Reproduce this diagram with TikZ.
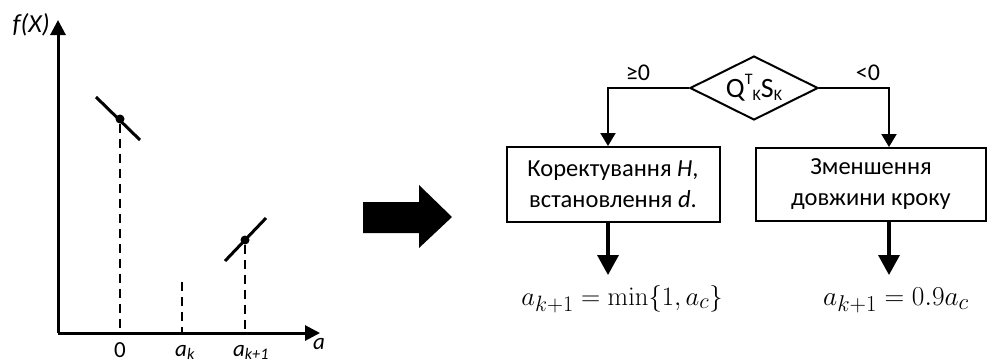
\documentclass[tikz,border=0pt]{standalone}
\usepackage{graphicx}
\usepackage[no-math]{fontspec}
\setmainfont{Carlito}
\usetikzlibrary{arrows.meta,shapes.geometric,calc}
\begin{document}
\begin{tikzpicture}[x=1pt,y=-1pt,
  axis/.style={line width=3pt,-{Triangle[length=15pt,width=15pt]}},
  tang/.style={line width=3pt},
  dsh/.style={line width=1.4pt,dash pattern=on 9pt off 6pt},
  dot/.style={circle,fill=black,inner sep=0pt,minimum size=9pt},
  lbl/.style={font=\fontsize{23}{26}\selectfont\itshape,inner sep=0pt},
  box/.style={draw,line width=2pt,align=center,font=\fontsize{24.5}{31}\selectfont,inner sep=0pt},
  flow/.style={line width=2pt,-{Triangle[length=13pt,width=15pt]}},
  outarr/.style={line width=3.5pt,-{Triangle[length=20pt,width=21pt]}},
  frm/.style={font=\fontsize{24.88}{30}\selectfont,anchor=base,inner sep=0pt},
  cond/.style={font=\fontsize{24}{26}\selectfont,inner sep=0pt}]
\useasboundingbox (0,0) rectangle (987,362);
% ---- graph ----
\coordinate (O) at (58,333);
\coordinate (ytip) at (58,20);
\coordinate (xtip) at (320,333);
\draw[axis] (O) -- (ytip);
\draw[axis] (O) -- (xtip);
\node[lbl,font=\fontsize{26}{28}\selectfont\itshape,anchor=east] (fx) at (50,25) {f(X)};
\node[lbl] (alab) at (319,344) {a};
\node[dot] (p1) at (120,119) {};
\node[dot] (p2) at (245,240) {};
\coordinate (t1a) at (96,97);
\coordinate (t1b) at (140,140);
\coordinate (t2a) at (225,261);
\coordinate (t2b) at (266,218);
\draw[tang] (t1a) -- (t1b);
\draw[tang] (t2a) -- (t2b);
\coordinate (b1) at (120,333);
\coordinate (bk) at (182,333);
\coordinate (b2) at (245,333);
\coordinate (tk) at (182,282);
\draw[dsh] (p1) -- (b1);
\draw[dsh] (tk) -- (bk);
\draw[dsh] (p2) -- (b2);
\node[lbl,font=\fontsize{23}{26}\selectfont,anchor=base] (l0) at (120,357) {0};
\node[lbl,anchor=base] (lk) at (185,356) {a\textsubscript{k}};
\node[lbl,anchor=base] (lk1) at (251,356) {a\textsubscript{k+1}};
% ---- block arrow ----
\fill (363,202) -- (419,202) -- (419,185) -- (452,217) -- (419,248) -- (419,233) -- (363,233) -- cycle;
% ---- flowchart ----
\node[draw,line width=2pt,shape=diamond,aspect=2,minimum width=128pt,minimum height=64pt,inner sep=0pt,
      font=\fontsize{28}{30}\selectfont] (dia) at (754,88)
      {\raisebox{-5pt}{Q\raisebox{13pt}{\fontsize{16}{17}\selectfont T}\raisebox{-3pt}{\fontsize{16}{17}\selectfont K}S\raisebox{-3pt}{\fontsize{16}{17}\selectfont K}}};
\node[box,minimum width=213pt,minimum height=75pt] (box1) at (613,184.5)
      {Коректування \textit{H},\\встановлення \textit{d}.};
\node[box,minimum width=230pt,minimum height=73pt] (box2) at (871,184.5)
      {Зменшення\\довжини кроку};
\coordinate (lc) at (608,88);
\coordinate (rc) at (889,88);
\draw[flow] (dia.west) -- (lc) -- (lc |- box1.north);
\draw[flow] (dia.east) -- (rc) -- (rc |- box2.north);
\node[cond] (ge) at (638,73) {≥0};
\node[cond] (lt) at (868,73) {<0};
\node[frm] (f1) at (622,305) {\scalebox{1.07}{$a_{k+1}=\min\{1,a_c\}$}};
\node[frm] (f2) at (896,305) {\scalebox{1.1}{$a_{k+1}=0.9a_c$}};
\coordinate (f1t) at (608,275);
\coordinate (f2t) at (889,275);
\draw[outarr] (lc |- box1.south) -- (f1t);
\draw[outarr] (rc |- box2.south) -- (f2t);
\end{tikzpicture}
\end{document}
